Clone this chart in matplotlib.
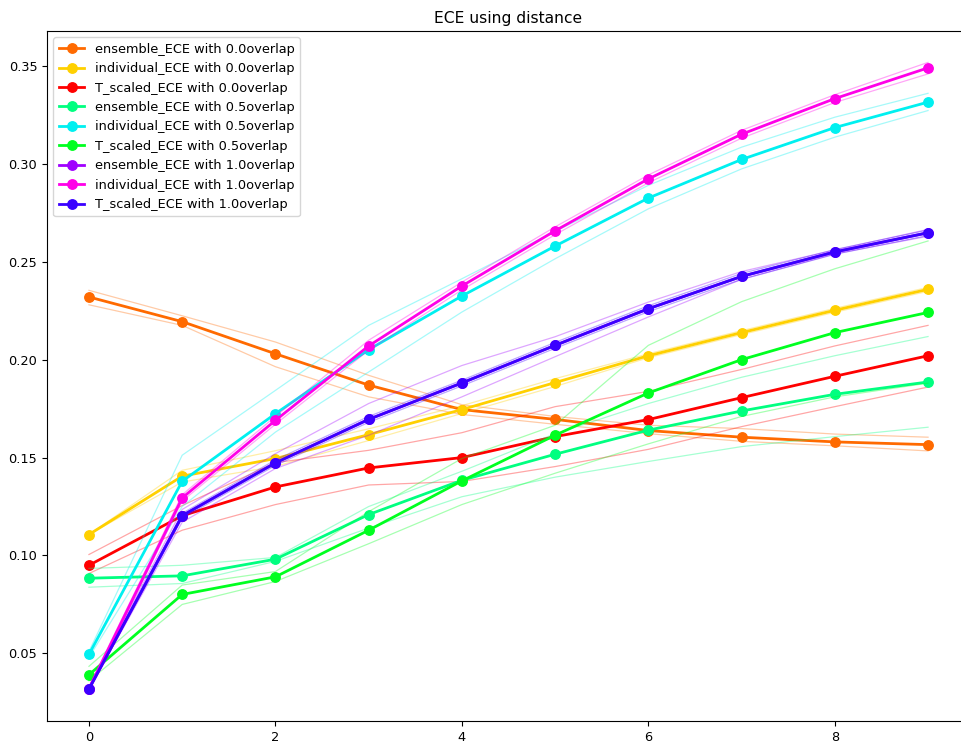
import numpy as np
import matplotlib
matplotlib.use("Agg")
import matplotlib.pyplot as plt

plt.rcParams["font.size"] = 9.3

x = np.arange(10)

labels = [
    "ensemble_ECE with 0.0overlap",
    "individual_ECE with 0.0overlap",
    "T_scaled_ECE with 0.0overlap",
    "ensemble_ECE with 0.5overlap",
    "individual_ECE with 0.5overlap",
    "T_scaled_ECE with 0.5overlap",
    "ensemble_ECE with 1.0overlap",
    "individual_ECE with 1.0overlap",
    "T_scaled_ECE with 1.0overlap",
]
colors = ["#ff6a00", "#ffd000", "#ff0000", "#00ff80", "#00f0f0",
          "#00ff20", "#a000ff", "#ff00e8", "#3a00ff"]

# mean values
ens_00 = [0.232, 0.2194, 0.203, 0.187, 0.1745, 0.1695, 0.1638, 0.1604, 0.158, 0.1566]
ind_00 = [0.1107, 0.1405, 0.1495, 0.1617, 0.1745, 0.1883, 0.202, 0.2138, 0.2252, 0.2359]
ts_00 = [0.095, 0.1203, 0.135, 0.1447, 0.150, 0.1607, 0.1694, 0.1806, 0.1915, 0.202]
ens_05 = [0.0884, 0.0896, 0.0981, 0.1209, 0.1384, 0.1517, 0.164, 0.1738, 0.1823, 0.1886]
ind_05 = [0.0495, 0.1379, 0.1724, 0.2051, 0.2325, 0.258, 0.2825, 0.3022, 0.3185, 0.3315]
ts_05 = [0.0391, 0.0801, 0.0891, 0.1129, 0.1381, 0.1614, 0.183, 0.200, 0.2138, 0.2241]
ens_10 = [0.0318, 0.1203, 0.1473, 0.1695, 0.1881, 0.2073, 0.226, 0.2425, 0.255, 0.2648]
ind_10 = [0.032, 0.1294, 0.169, 0.207, 0.2376, 0.2658, 0.2923, 0.3151, 0.3333, 0.349]
ts_10 = [0.0318, 0.1203, 0.1473, 0.1695, 0.1881, 0.2073, 0.226, 0.2425, 0.255, 0.2648]

# upper / lower bounds
ens_00_hi = [0.2354, 0.2224, 0.209, 0.192, 0.177, 0.171, 0.1665, 0.1648, 0.162, 0.1604]
ens_00_lo = [0.228, 0.2175, 0.1964, 0.181, 0.172, 0.167, 0.1622, 0.1583, 0.156, 0.1534]
ind_00_hi = [0.1107, 0.1435, 0.1535, 0.1647, 0.1765, 0.1903, 0.203, 0.2148, 0.2262, 0.2369]
ind_00_lo = [0.1107, 0.1375, 0.1455, 0.1587, 0.1725, 0.1863, 0.201, 0.2128, 0.2242, 0.2349]
ts_00_hi = [0.1005, 0.1255, 0.1474, 0.1537, 0.1627, 0.176, 0.1838, 0.195, 0.207, 0.2175]
ts_00_lo = [0.0908, 0.1129, 0.126, 0.136, 0.1378, 0.1454, 0.1542, 0.1658, 0.176, 0.186]
ens_05_hi = [0.0934, 0.095, 0.099, 0.125, 0.143, 0.1622, 0.1776, 0.191, 0.202, 0.2118]
ens_05_lo = [0.0838, 0.0857, 0.097, 0.114, 0.130, 0.140, 0.148, 0.1556, 0.1607, 0.1655]
ind_05_hi = [0.051, 0.1512, 0.1843, 0.2175, 0.2413, 0.2655, 0.289, 0.3085, 0.3238, 0.336]
ind_05_lo = [0.048, 0.125, 0.163, 0.1937, 0.2243, 0.2515, 0.277, 0.2974, 0.3136, 0.3272]
ts_05_hi = [0.0434, 0.0849, 0.0918, 0.1224, 0.1495, 0.1665, 0.2073, 0.2296, 0.2464, 0.2606]
ts_05_lo = [0.036, 0.075, 0.0867, 0.106, 0.126, 0.142, 0.157, 0.171, 0.181, 0.188]
ens_10_hi = [0.033, 0.1235, 0.152, 0.1776, 0.197, 0.2117, 0.2294, 0.245, 0.256, 0.2665]
ens_10_lo = [0.0315, 0.117, 0.1444, 0.1614, 0.181, 0.2015, 0.2218, 0.241, 0.254, 0.263]
ind_10_hi = [0.033, 0.131, 0.171, 0.2099, 0.2396, 0.2678, 0.2943, 0.3171, 0.3353, 0.3518]
ind_10_lo = [0.0315, 0.1278, 0.167, 0.2048, 0.2356, 0.2638, 0.2903, 0.3131, 0.3313, 0.3459]
ts_10_hi = [0.0325, 0.1215, 0.1488, 0.171, 0.1895, 0.2088, 0.2275, 0.244, 0.2562, 0.2662]
ts_10_lo = [0.0315, 0.119, 0.146, 0.168, 0.1866, 0.2058, 0.2245, 0.241, 0.2538, 0.2634]

means = [ens_00, ind_00, ts_00, ens_05, ind_05, ts_05, ens_10, ind_10, ts_10]
highs = [ens_00_hi, ind_00_hi, ts_00_hi, ens_05_hi, ind_05_hi, ts_05_hi,
         ens_10_hi, ind_10_hi, ts_10_hi]
lows = [ens_00_lo, ind_00_lo, ts_00_lo, ens_05_lo, ind_05_lo, ts_05_lo,
        ens_10_lo, ind_10_lo, ts_10_lo]

fig = plt.figure(figsize=(9.62, 7.42), dpi=100)
# the original picture is cropped on the right, so the axes run past the edge
ax = fig.add_axes([47 / 962, 21 / 742, 923 / 962, 690 / 742])

for m, hi, lo, c, lab in zip(means, highs, lows, colors, labels):
    ax.plot(x, m, "-o", color=c, lw=2, ms=6.8, label=lab)
    ax.plot(x, hi, color=c, lw=0.9, alpha=0.35)
    ax.plot(x, lo, color=c, lw=0.9, alpha=0.35)

ax.set_title("ECE using distance")
ax.legend(loc="upper left")

fig.savefig("out.png", dpi=100)
